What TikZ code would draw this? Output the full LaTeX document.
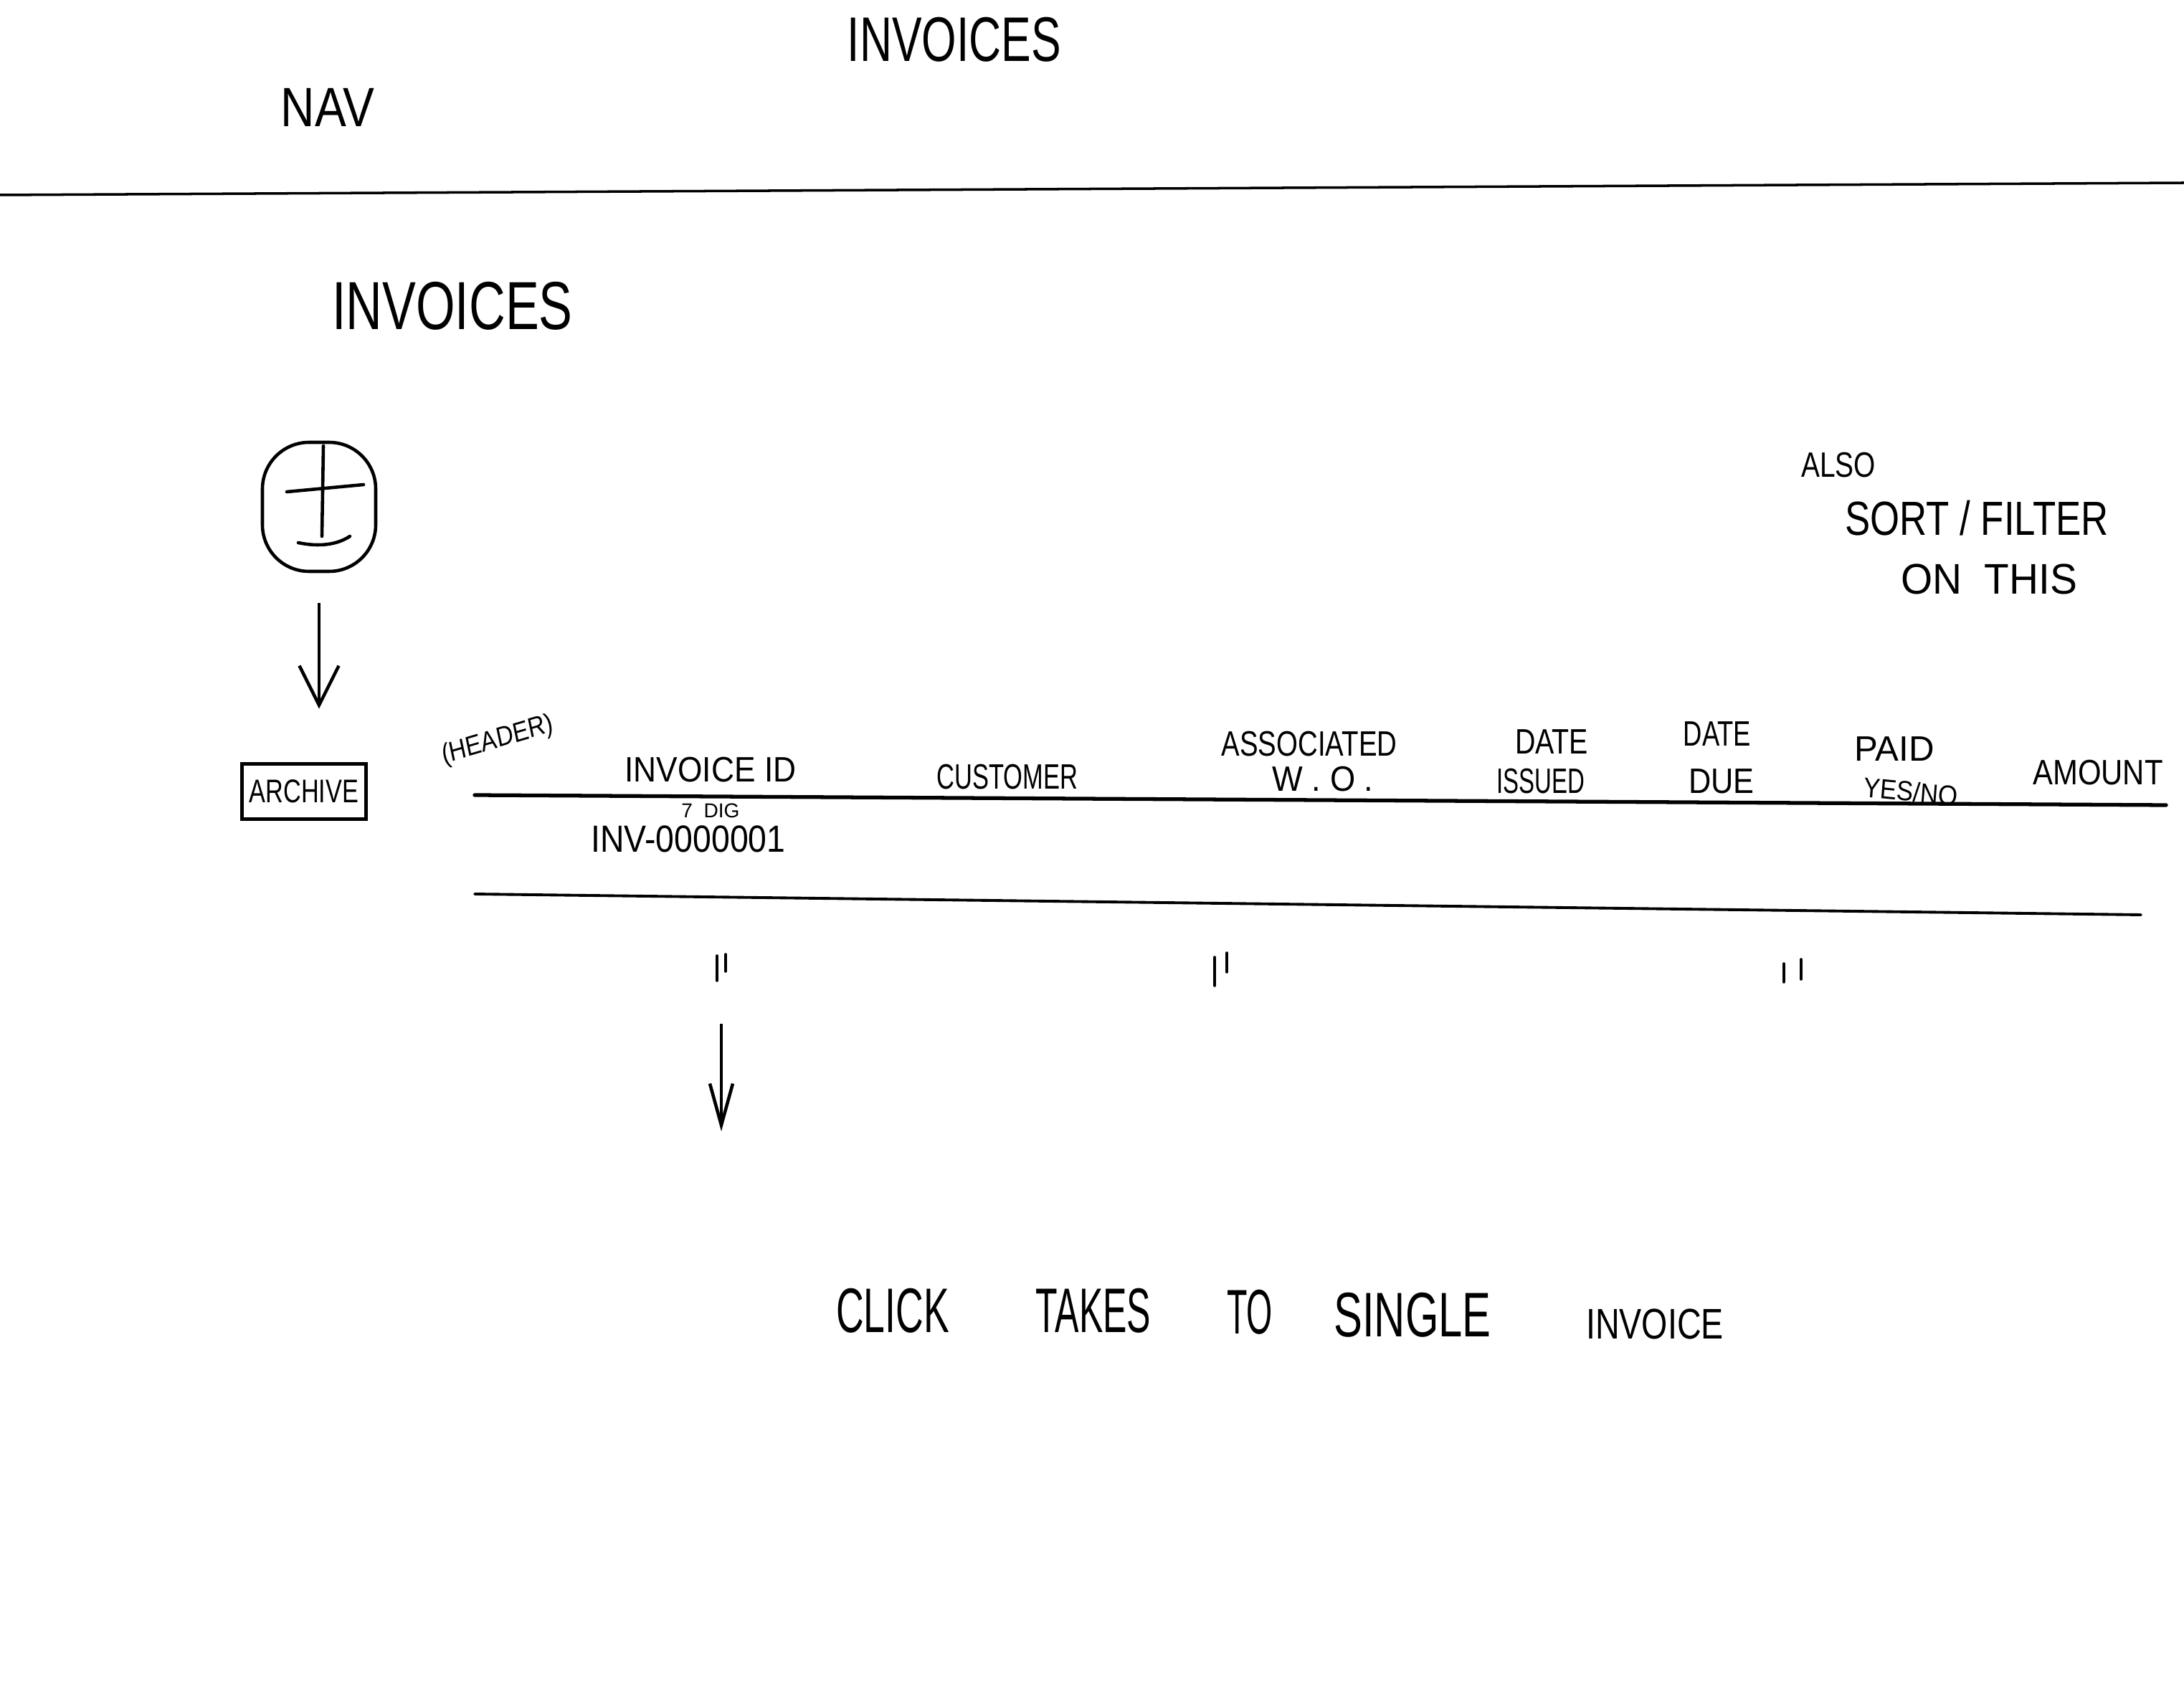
\documentclass[tikz,border=0pt]{standalone}
\usepackage{fontspec}
\setmainfont{Liberation Sans}
\usetikzlibrary{arrows.meta, positioning}

\begin{document}
\begin{tikzpicture}[
    y=-1cm,
    hw/.style={font=\fontsize{#1}{#1}\selectfont, inner sep=0pt},
    pen/.style={line width=1.3pt, line cap=round},
    btn/.style={draw, pen, rounded corners=6.5mm, minimum width=1.58cm,
                minimum height=1.8cm},
    tag/.style={draw, pen, hw=13pt, xscale=.75, minimum width=2.3cm,
                minimum height=0.77cm},
    flow/.style={line width=0.9pt,
                 -{Straight Barb[length=5.5mm, width=5.5mm, line width=1.3pt]}}
  ]
  \fill[white] (0,0) rectangle (30.46,23.74);
  \useasboundingbox (0,0) rectangle (30.46,23.74);

  % top bar
  \node[hw=25pt, xscale=.71] (title) at (13.31,0.55) {INVOICES};
  \node[hw=22pt, xscale=.85] (nav) at (4.57,1.50) {NAV};
  \draw[pen, line width=1pt] (0,2.72) -- (30.46,2.55);

  \node[hw=27pt, xscale=.74] (page) at (6.31,4.27) {INVOICES};

  % add button
  \node[btn] (add) at (4.45,7.07) {};
  \draw[pen] (4.51,6.22) -- (4.49,7.48);
  \draw[pen] (4.00,6.86) -- (5.07,6.76);
  \draw[pen] (4.16,7.57) .. controls (4.45,7.63) and (4.70,7.60) .. (4.88,7.48);

  \node[tag] (archive) at (4.24,11.04) {ARCHIVE};
  \draw[flow, shorten <=4.2mm, shorten >=7.45mm] (add.south) -- (add.south |- archive.north);

  \node[hw=14pt, xscale=.79] (also) at (25.64,6.49) {ALSO};
  \node[hw=19pt, xscale=.79] (sort) at (27.57,7.23) {SORT / FILTER};
  \node[hw=17pt, xscale=.95] (onthis) at (27.74,8.08) {ON\ \ THIS};

  % header row
  \node[hw=11pt, xscale=.85, rotate=14] (hdr) at (6.94,10.33) {(HEADER)};
  \foreach \n/\x/\y/\k/\t in {inv/9.91/10.74/.9/INVOICE ID,
                              cust/14.05/10.84/.7/CUSTOMER,
                              assoc/18.26/10.38/.78/ASSOCIATED,
                              wo/18.45/10.87/.92/W . O .,
                              iss/21.64/10.35/.8/DATE,
                              issb/21.49/10.90/.67/ISSUED,
                              due/23.95/10.24/.74/DATE,
                              dueb/24.01/10.90/.88/DUE,
                              paid/26.42/10.45/1/PAID,
                              amt/29.26/10.78/.85/AMOUNT} {
    \node[hw=14pt, xscale=\k] (\n) at (\x,\y) {\t};
  }
  \node[hw=11pt, xscale=.9, rotate=-5] (paidb) at (26.65,11.04) {YES/NO};
  \draw[pen, line width=1.5pt] (6.62,11.09) -- (30.21,11.23);

  \node[hw=8pt] (dig) at (9.91,11.31) {7\ \ DIG};
  \node[hw=15pt, xscale=.88] (invid) at (9.60,11.70) {INV-0000001};
  \draw[pen, line width=1.1pt] (6.62,12.47) -- (29.86,12.76);

  % ditto marks
  \foreach \x/\a/\b in {10.00/13.33/13.68, 10.12/13.31/13.55,
                        16.94/13.35/13.75, 17.11/13.29/13.56,
                        24.88/13.44/13.70, 25.12/13.38/13.66} {
    \draw[pen, line width=1pt] (\x,\a) -- (\x,\b);
  }
  \coordinate (dit) at (10.06,14.28);
  \coordinate (open) at (10.06,15.78);
  \draw[flow, -{Straight Barb[length=5.8mm, width=3.2mm, line width=1.3pt]}] (dit) -- (open);

  \foreach \n/\x/\y/\k/\t in {click/12.45/18.28/.61/CLICK,
                              takes/15.25/18.28/.57/TAKES,
                              to/17.43/18.30/.53/TO,
                              single/19.70/18.34/.68/SINGLE} {
    \node[hw=25pt, xscale=\k] (\n) at (\x,\y) {\t};
  }
  \node[hw=17pt, xscale=.78] (invoice) at (23.08,18.47) {INVOICE};
\end{tikzpicture}
\end{document}
